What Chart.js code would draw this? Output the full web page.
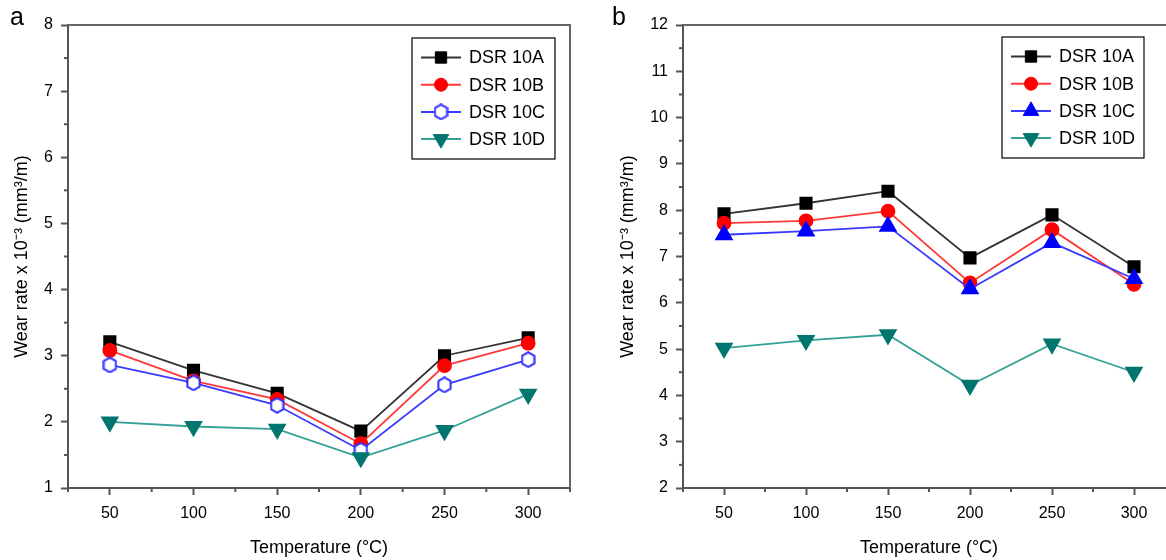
<!DOCTYPE html>
<html>
<head>
<meta charset="utf-8">
<script src="https://cdn.jsdelivr.net/npm/chart.js@4.4.0/dist/chart.umd.min.js"></script>
<style>
  html, body { margin: 0; padding: 0; background: #fff; width: 1166px; height: 560px; overflow: hidden; font-family: "Liberation Sans", Arial, sans-serif; }
  .panel { position: absolute; top: 0; height: 560px; }
  #pa { left: 0; width: 600px; }
  #pb { left: 600px; width: 600px; }
  .tag { position: absolute; top: 2px; font-size: 25px; color: #000; }
</style>
</head>
<body>
<div class="panel" id="pa"><canvas id="chartA"></canvas></div>
<div class="panel" id="pb"><canvas id="chartB"></canvas></div>
<div class="tag" style="left:10px">a</div>
<div class="tag" style="left:612px">b</div>

<script>
// temperatures (°C)
const temps = [50, 100, 150, 200, 250, 300];
const xTicks = [50, 100, 150, 200, 250, 300];

// panel a - wear rate x 10^-3 (mm3/m)
const a10A = [3.21, 2.78, 2.43, 1.86, 3.00, 3.27];
const a10B = [3.08, 2.62, 2.34, 1.67, 2.85, 3.19];
const a10C = [2.86, 2.59, 2.25, 1.57, 2.56, 2.94];
const a10D = [2.00, 1.93, 1.89, 1.46, 1.87, 2.42];
const aYTicks = [1, 2, 3, 4, 5, 6, 7, 8];

// panel b
const b10A = [7.92, 8.15, 8.41, 6.97, 7.90, 6.78];
const b10B = [7.72, 7.77, 7.98, 6.43, 7.58, 6.40];
const b10C = [7.47, 7.55, 7.65, 6.30, 7.30, 6.52];
const b10D = [5.02, 5.19, 5.31, 4.22, 5.11, 4.50];
const bYTicks = [2, 3, 4, 5, 6, 7, 8, 9, 10, 11, 12];

const labels = ['DSR 10A', 'DSR 10B', 'DSR 10C', 'DSR 10D'];
const FONT = '"Liberation Sans", Arial, sans-serif';

// open hexagon marker (panel a, DSR 10C)
function hexMarker() {
  const c = document.createElement('canvas');
  c.width = 15; c.height = 17;
  const g = c.getContext('2d');
  g.beginPath();
  g.moveTo(7.5, 1.2); g.lineTo(13.6, 4.6); g.lineTo(13.6, 12.4); g.lineTo(7.5, 15.8); g.lineTo(1.4, 12.4); g.lineTo(1.4, 4.6);
  g.closePath();
  g.fillStyle = '#fff'; g.fill();
  g.strokeStyle = '#2f2fff'; g.lineWidth = 2; g.stroke();
  return c;
}

function toPoints(vals) {
  return temps.map((t, i) => ({ x: t, y: vals[i] }));
}

// later series sit on top, like the original plot
function makeSets(series, cStyle) {
  return [
    { label: labels[0], data: toPoints(series[0]), borderColor: '#333', pointBackgroundColor: '#000', pointBorderColor: '#000',
      pointStyle: 'rect', pointRadius: 8, borderWidth: 1.8, order: 4 },
    { label: labels[1], data: toPoints(series[1]), borderColor: '#ff3838', pointBackgroundColor: '#ff0000', pointBorderColor: '#ff0000',
      pointStyle: 'circle', pointRadius: 6.5, borderWidth: 1.8, order: 3 },
    { label: labels[2], data: toPoints(series[2]), borderColor: '#3a3aff', pointBackgroundColor: '#0000ff', pointBorderColor: '#0000ff',
      pointStyle: cStyle, pointRadius: 9, borderWidth: 1.8, order: 2 },
    { label: labels[3], data: toPoints(series[3]), borderColor: '#35a097', pointBackgroundColor: '#00766f', pointBorderColor: '#00766f',
      pointStyle: 'triangle', pointRotation: 180, pointRadius: 9, borderWidth: 1.8, order: 1 }
  ];
}

// frame on top/right, minor ticks and the boxed legend
const decorPlugin = {
  id: 'decor',
  afterDraw(chart, args, opts) {
    const ctx = chart.ctx;
    const area = chart.chartArea;
    const xs = chart.scales.x, ys = chart.scales.y;
    ctx.save();
    ctx.strokeStyle = '#666';
    ctx.lineWidth = 2;
    ctx.beginPath();
    ctx.moveTo(area.left, area.top); ctx.lineTo(area.right, area.top); ctx.lineTo(area.right, area.bottom);
    ctx.stroke();

    // minor ticks
    ctx.strokeStyle = '#555';
    ctx.lineWidth = 2;
    for (let v = 25; v <= xs.max; v += 50) {
      const px = xs.getPixelForValue(v);
      ctx.beginPath(); ctx.moveTo(px, area.bottom); ctx.lineTo(px, area.bottom + 4); ctx.stroke();
    }
    for (let v = ys.min + 0.5; v < ys.max; v += 1) {
      const py = ys.getPixelForValue(v);
      ctx.beginPath(); ctx.moveTo(area.left, py); ctx.lineTo(area.left - 4, py); ctx.stroke();
    }

    // legend box
    const L = opts;
    ctx.strokeStyle = '#000';
    ctx.lineWidth = 1.2;
    ctx.strokeRect(L.x, L.y, L.w, L.h);
    ctx.font = '18px ' + FONT;
    ctx.textBaseline = 'middle';
    ctx.textAlign = 'left';
    chart.data.datasets.forEach((ds, i) => {
      const ry = L.y + 19.5 + i * 27.2;
      ctx.strokeStyle = ds.borderColor;
      ctx.lineWidth = 2;
      ctx.beginPath(); ctx.moveTo(L.x + 9, ry); ctx.lineTo(L.x + 49, ry); ctx.stroke();
      ctx.fillStyle = ds.pointBackgroundColor;
      ctx.strokeStyle = ds.pointBorderColor;
      ctx.lineWidth = 1;
      Chart.helpers.drawPoint(ctx, { pointStyle: ds.pointStyle, rotation: ds.pointRotation || 0, radius: ds.pointRadius, borderWidth: 1 }, L.x + 29, ry);
      ctx.fillStyle = '#000';
      ctx.fillText(ds.label, L.x + 57, ry + 1);
    });
    ctx.restore();
  }
};

function makeChart(id, series, cStyle, yMin, yMax, yTicks, yWidth, titlePad, rightPad, legendBox) {
  return new Chart(document.getElementById(id), {
    type: 'line',
    data: { datasets: makeSets(series, cStyle) },
    options: {
      responsive: true,
      maintainAspectRatio: false,
      animation: false,
      layout: { padding: { top: 25, right: rightPad, left: 0, bottom: 0 } },
      elements: { line: { tension: 0, fill: false } },
      plugins: {
        legend: { display: false },
        tooltip: { enabled: false },
        decor: legendBox
      },
      scales: {
        x: {
          type: 'linear', min: 25, max: 325,
          afterBuildTicks: s => { s.ticks = xTicks.map(v => ({ value: v })); },
          afterFit: s => { s.height = 72; },
          ticks: { color: '#000', font: { size: 16, family: FONT }, padding: 9, maxRotation: 0, autoSkip: false },
          grid: { drawOnChartArea: false, drawTicks: true, tickLength: 7, tickColor: '#555', tickWidth: 2 },
          border: { color: '#555', width: 2 },
          title: { display: true, text: 'Temperature (°C)', color: '#000', font: { size: 18, family: FONT }, padding: { top: 0, bottom: 1 } }
        },
        y: {
          type: 'linear', min: yMin, max: yMax,
          afterBuildTicks: s => { s.ticks = yTicks.map(v => ({ value: v })); },
          afterFit: s => { s.width = yWidth; },
          ticks: { color: '#000', font: { size: 16, family: FONT }, padding: 8 },
          grid: { drawOnChartArea: false, drawTicks: true, tickLength: 7, tickColor: '#555', tickWidth: 2 },
          border: { color: '#555', width: 2 },
          title: { display: true, text: 'Wear rate x 10⁻³ (mm³/m)', color: '#000', font: { size: 18, family: FONT }, padding: { top: titlePad, bottom: 0 } }
        }
      }
    },
    plugins: [decorPlugin]
  });
}

makeChart('chartA', [a10A, a10B, a10C, a10D], hexMarker(), 1, 8, aYTicks, 68, 11, 30,
  { x: 412, y: 38, w: 143, h: 121 });
makeChart('chartB', [b10A, b10B, b10C, b10D], 'triangle', 2, 12, bYTicks, 83, 17, 25,
  { x: 402, y: 37, w: 142, h: 121 });
</script>
</body>
</html>
